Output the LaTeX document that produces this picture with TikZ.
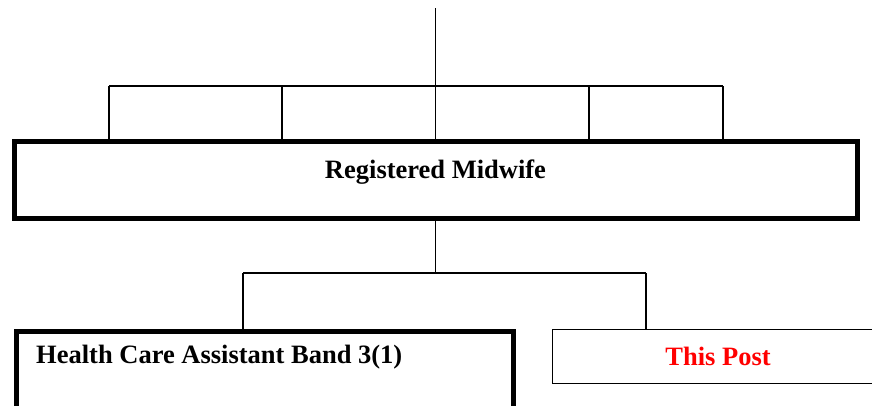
\documentclass[tikz,border=0pt]{standalone}
\usepackage{fontspec}
\setmainfont{Liberation Serif}
\begin{document}
\begin{tikzpicture}[x=1pt,y=-1pt,
  thinline/.style={line width=1.4pt, black},
  lbl/.style={font=\bfseries\fontsize{26.5}{28}\selectfont, inner sep=0pt}]
\useasboundingbox (0,0) rectangle (872,405);
\clip (0,0) rectangle (872,405);
% boxes
\node[draw, line width=5pt, minimum width=843pt, minimum height=77pt, inner sep=0pt] (mid) at (435.5,179.5) {};
\node[lbl] (midtext) at (435.5,172) {Registered Midwife};
\node[draw, line width=5pt, minimum width=497pt, minimum height=100pt, inner sep=0pt, anchor=north west] (hca) at (14,328.5) {};
\node[lbl, anchor=west] (hcatext) at (36,357) {Health Care Assistant Band 3(1)};
\node[draw, line width=1.4pt, minimum width=340pt, minimum height=54pt, inner sep=0pt, anchor=north west] (post) at (551.5,328.5) {};
\node[lbl, text=red] (posttext) at (718,356) {This Post};
% top connectors
\coordinate (top) at (435.5,8);
\coordinate (bus) at (435.5,86);
\coordinate (b1) at (109,86);
\coordinate (b2) at (282,86);
\coordinate (b4) at (589,86);
\coordinate (b5) at (723,86);
\draw[thinline] (top) -- (bus);
\draw[thinline] (b1) -- (b5);
\foreach \c in {b1,b2,bus,b4,b5} \draw[thinline] (\c) -- (\c |- mid.north);
% bottom connectors
\coordinate (split) at (435.5,273);
\coordinate (sl) at (243,273);
\coordinate (sr) at (646,273);
\draw[thinline] (mid.south) -- (split);
\draw[thinline] (sl) -- (sr);
\draw[thinline] (sl) -- (sl |- hca.north);
\draw[thinline] (sr) -- (sr |- post.north);
\end{tikzpicture}
\end{document}
